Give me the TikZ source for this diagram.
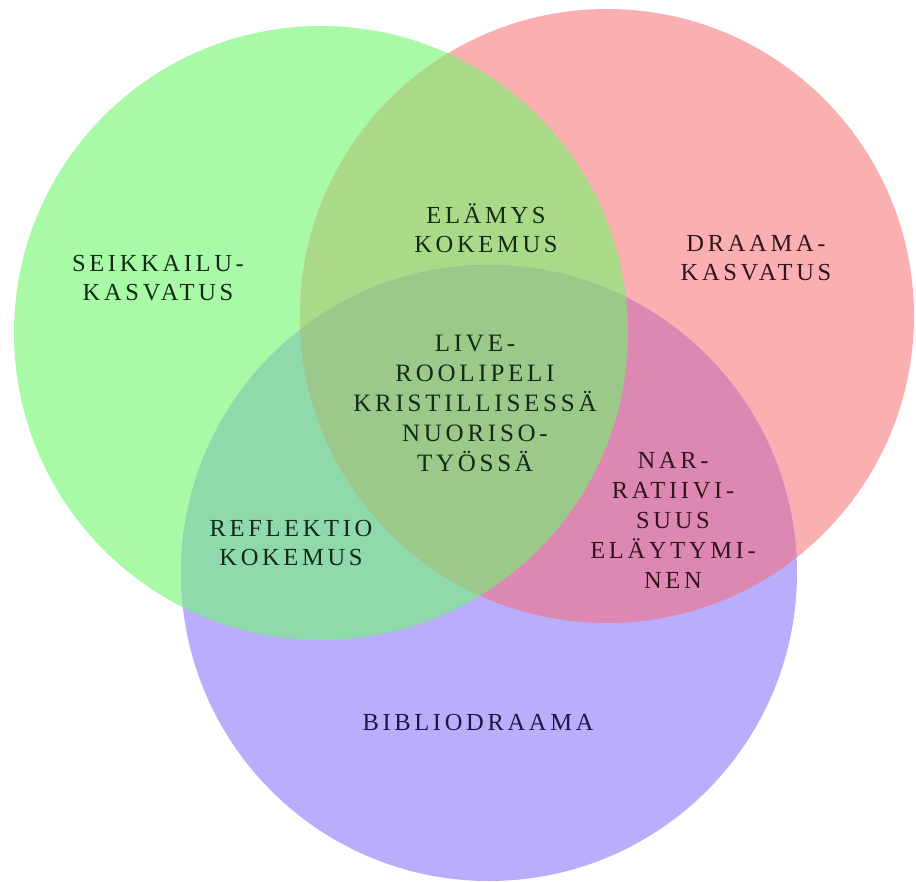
\documentclass[tikz,border=0pt]{standalone}
\usepackage{fontspec}
\newfontfamily\lblfont{Liberation Serif}[LetterSpace=15]
\definecolor{gOnly}{HTML}{A8FAA6}
\definecolor{rOnly}{HTML}{FAB0B0}
\definecolor{bOnly}{HTML}{BAAEFC}
\definecolor{gr}{HTML}{AADA88}
\definecolor{gb}{HTML}{8EDAAA}
\definecolor{rb}{HTML}{DC88B2}
\definecolor{grb}{HTML}{9CC88A}
\definecolor{gTxt}{HTML}{132A16}
\definecolor{rTxt}{HTML}{33141D}
\definecolor{bTxt}{HTML}{1C1842}
\begin{document}
\begin{tikzpicture}[x=1pt,y=-1pt,
  lbl/.style={align=center,font=\lblfont\fontsize{24.5}{29.5}\selectfont,inner sep=0pt}]
\useasboundingbox (0,0) rectangle (916,882);
\def\G{(321,333) circle[radius=307pt]}
\def\R{(607,316) circle[radius=307pt]}
\def\B{(489,573) circle[radius=308pt]}
\fill[gOnly] \G;
\fill[rOnly] \R;
\fill[bOnly] \B;
\begin{scope}\clip \G; \fill[gr] \R; \end{scope}
\begin{scope}\clip \G; \fill[gb] \B; \end{scope}
\begin{scope}\clip \R; \fill[rb] \B; \end{scope}
\begin{scope}\clip \G; \clip \R; \fill[grb] \B; \end{scope}
\node[lbl,text=gTxt] (seik) at (158,278) {SEIKKAILU-\\KASVATUS};
\node[lbl,text=gTxt] (elam) at (486,228) {ELÄMYS\\KOKEMUS};
\node[lbl,text=rTxt] (draa) at (756,258) {DRAAMA-\\KASVATUS};
\node[lbl,text=gTxt,font=\lblfont\fontsize{25}{30}\selectfont] (live) at (475,403) {LIVE-\\ROOLIPELI\\KRISTILLISESSÄ\\NUORISO-\\TYÖSSÄ};
\node[lbl,text=gTxt] (refl) at (291,543) {REFLEKTIO\\KOKEMUS};
\node[lbl,text=rTxt,font=\lblfont\fontsize{24.5}{30}\selectfont] (narr) at (673,520) {NAR-\\RATIIVI-\\SUUS\\ELÄYTYMI-\\NEN};
\node[lbl,text=bTxt] (bibl) at (478,723) {BIBLIODRAAMA};
\end{tikzpicture}
\end{document}
